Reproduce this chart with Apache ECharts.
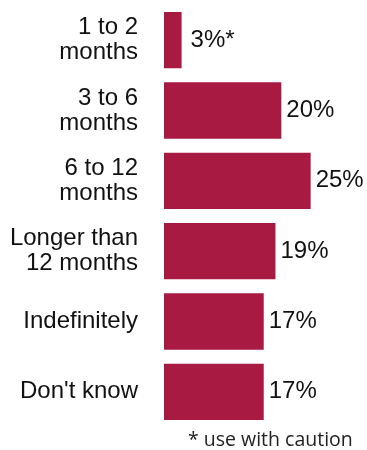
<!DOCTYPE html>
<html>
<head>
<meta charset="utf-8">
<script src="https://cdn.jsdelivr.net/npm/echarts@6/dist/echarts.min.js"></script>
<style>
html,body{margin:0;padding:0;background:#fff;}
#c{width:367px;height:450px;}
</style>
</head>
<body>
<div id="c"></div>
<script>
const categories = ['1 to 2\nmonths', '3 to 6\nmonths', '6 to 12\nmonths', 'Longer than\n12 months', 'Indefinitely', "Don't know"];
const values = [3, 20, 25, 19, 17, 17];
const notes = ['*', '', '', '', '', ''];
const footnote = '* use with caution';

const chart = echarts.init(document.getElementById('c'), null, {renderer: 'canvas'});
chart.setOption({
  animation: false,
  backgroundColor: '#fff',
  grid: {left: 164, right: 27, top: 5, height: 422, containLabel: false},
  xAxis: {type: 'value', min: 0, max: 30, show: false},
  yAxis: {
    type: 'category', data: categories, inverse: true,
    axisLine: {show: false}, axisTick: {show: false},
    axisLabel: {
      margin: 26, fontFamily: 'Liberation Sans, Arial, sans-serif', fontSize: 24,
      lineHeight: 25, color: '#111', align: 'right'
    }
  },
  series: [{
    type: 'bar',
    data: values.map((v, i) => notes[i] ? {value: v, label: {distance: 9}} : v),
    barCategoryGap: '20%',
    itemStyle: {color: '#a91a42'},
    label: {
      show: true, position: 'right', distance: 5,
      fontFamily: 'Liberation Sans, Arial, sans-serif', fontSize: 24, color: '#111',
      formatter: p => p.value + '%' + notes[p.dataIndex]
    }
  }],
  graphic: [{
    type: 'text', left: 188, top: 430,
    style: {text: footnote, font: '19.5px "Open Sans", sans-serif', fill: '#222'}
  }]
});
</script>
</body>
</html>
